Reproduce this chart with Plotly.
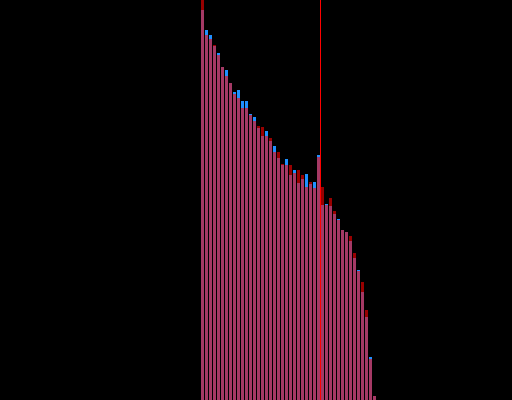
import plotly.graph_objects as go

bins = list(range(44))
blue_vals = [390, 370, 365, 354, 347, 333, 330, 317, 308, 310, 299, 299, 286, 283, 272, 264,
             269, 259, 254, 242, 235, 241, 225, 230, 217, 221, 226, 216, 218, 245, 195, 196,
             194, 186, 181, 170, 168, 159, 142, 130, 108, 83, 43, 4]
red_vals = [402, 365, 361, 355, 345, 333, 324, 317, 306, 302, 292, 292, 285, 279, 274, 273,
            264, 262, 248, 248, 236, 235, 235, 227, 230, 225, 213, 218, 212, 243, 213, 195,
            202, 189, 180, 170, 168, 164, 147, 129, 118, 90, 41, 4]
threshold = 29.5

fig = go.Figure()
fig.add_trace(go.Bar(x=bins, y=blue_vals, marker=dict(color="#1e90ff", line=dict(width=0)),
                     opacity=1.0))
fig.add_trace(go.Bar(x=bins, y=red_vals, marker=dict(color="#ff0000", line=dict(width=0)),
                     opacity=0.6))
fig.add_shape(type="line", x0=threshold, x1=threshold, y0=0, y1=1, yref="paper",
              line=dict(color="#ff0000", width=1))

fig.update_layout(
    width=512, height=400,
    margin=dict(l=0, r=0, t=0, b=0),
    paper_bgcolor="black", plot_bgcolor="black",
    barmode="overlay", bargap=0.25,
    showlegend=False,
    xaxis=dict(visible=False, range=[-50.625, 77.375]),
    yaxis=dict(visible=False, range=[0, 400]),
)
fig.write_html(
    "out.html",
    config={"displayModeBar": False},
    post_script="document.body.style.margin='0';document.body.style.background='black';"
                "document.body.style.overflow='hidden';",
)
